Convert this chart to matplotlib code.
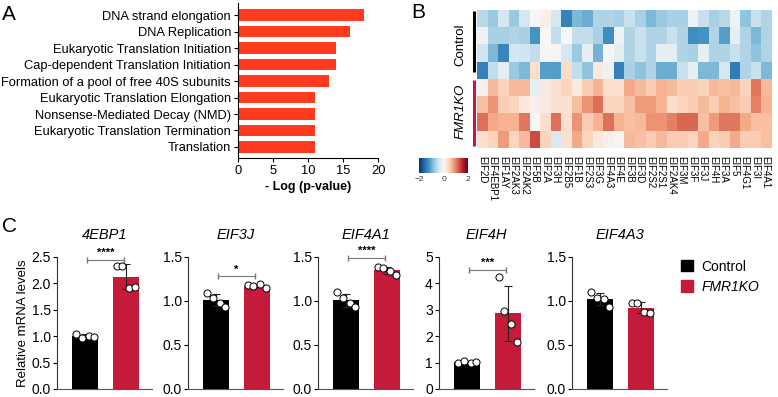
import numpy as np
from matplotlib import pyplot as plt
from matplotlib.patches import Patch

plt.rcParams['font.family'] = ['Liberation Sans', 'DejaVu Sans']

# panel A
pathways = ["DNA strand elongation", "DNA Replication", "Eukaryotic Translation Initiation",
            "Cap-dependent Translation Initiation", "Formation of a pool of free 40S subunits",
            "Eukaryotic Translation Elongation", "Nonsense-Mediated Decay (NMD)",
            "Eukaryotic Translation Termination", "Translation"]
neg_log_p = [18, 16, 14, 14, 13, 11, 11, 11, 11]

# panel B
genes = ["EIF2D", "EIF4EBP1", "EIF1AY", "EIF2AK3", "EIF2AK2", "EIF5B", "EIF2A", "EIF3H", "EIF2B5",
         "EIF1B", "EIF2S3", "EIF3G", "EIF4A3", "EIF4E", "EIF3B", "EIF3D", "EIF2S2", "EIF2S1",
         "EIF2AK4", "EIF3M", "EIF3F", "EIF3J", "EIF4H", "EIF3A", "EIF5", "EIF4G1", "EIF3I", "EIF4A1"]
groups = ["Control", "FMR1KO"]
zscores = [
    [-0.55, -0.75, -0.35, -0.75, -0.35, 0.0, 0.1, -0.35, -1.35, -0.9, -1.0, -0.6, -0.6, -0.65,
     -0.45, -0.65, -0.9, -0.75, -0.65, -0.65, -0.1, -0.45, -0.65, -0.55, -0.1, -0.8, -0.45, -0.6],
    [-0.1, -0.65, -0.65, -0.6, -0.65, -1.2, 0.0, -0.5, 0.0, -0.5, -0.5, -0.65, -1.25, -0.1,
     -0.6, -0.45, -0.6, -0.6, -0.45, -0.6, -1.25, -1.2, -0.6, -1.1, -0.2, -0.6, -0.9, -0.6],
    [-0.4, -0.9, -1.3, -0.35, -0.4, -0.5, 0.0, 0.05, -0.35, -0.75, -0.2, -0.95, 0.0, -0.2,
     -0.6, -0.45, -0.6, -0.2, -0.2, -0.6, -0.65, -0.2, -0.6, -0.6, -0.45, -0.6, -0.8, -0.6],
    [-1.35, -0.5, -0.2, -0.75, -0.9, 0.35, -1.1, -1.1, 0.4, -0.5, -0.8, 0.2, -0.1, -1.35,
     -0.65, -0.8, -0.6, -1.0, -1.0, -0.45, -0.2, -0.9, -0.9, -0.35, -1.4, -0.6, -0.45, -0.9],
    [0.1, 0.65, 0.45, 0.65, 0.65, -0.2, 0.2, 0.3, 0.45, 0.2, 0.5, 0.7, 0.35, 0.35,
     0.75, 0.65, 0.5, 0.7, 0.65, 0.5, 0.5, 0.45, 0.65, 0.6, 0.65, 0.45, 1.05, 0.65],
    [0.6, 0.9, 0.5, 0.45, 0.2, 0.1, 0.2, 0.3, 0.3, 0.6, 0.9, 1.1, 0.45, 0.45,
     0.6, 0.85, 0.85, 0.7, 0.35, 0.45, 0.5, 0.65, 0.5, 0.7, 0.6, 0.5, 1.0, 0.7],
    [1.1, 0.75, 0.7, 0.7, 1.05, 0.0, 0.35, 1.1, 0.3, 0.9, 0.5, 0.7, 1.1, 0.7,
     0.6, 0.65, 0.9, 0.9, 1.0, 1.15, 1.15, 0.6, 0.85, 1.05, 1.05, 0.75, 0.6, 0.6],
    [0.35, 0.45, 0.85, 0.45, 0.65, 1.3, 0.45, -0.3, 0.3, 0.75, 0.45, 0.2, 0.1, 0.05,
     0.65, 0.6, 0.5, 0.65, 0.5, 0.5, 0.45, 0.75, 0.45, 0.5, 0.75, 0.5, 0.5, 0.6],
]

# panel C
qpcr_genes = ["4EBP1", "EIF3J", "EIF4A1", "EIF4H", "EIF4A3"]
control_pts = [[1.05, 0.97, 1.0, 0.98], [1.09, 1.03, 0.98, 0.93], [1.10, 1.03, 0.98, 0.93],
               [0.97, 1.05, 1.0, 1.02], [1.10, 1.03, 1.02, 0.93]]
fmr_pts = [[2.33, 2.33, 1.92, 1.93], [1.18, 1.17, 1.19, 1.15], [1.39, 1.37, 1.34, 1.30],
           [4.24, 2.95, 2.48, 1.79], [0.98, 0.98, 0.88, 0.86]]
stars = ["****", "*", "****", "***", ""]
bracket_y = [2.44, 1.28, 1.49, 4.52, None]
ymax = [2.5, 1.5, 1.5, 5, 1.5]

red = '#c51b3a'

fig = plt.figure(figsize=(7.78, 3.97), dpi=100)

# ---- A
axA = fig.add_axes([0.306, 0.602, 0.180, 0.39])
y = np.arange(len(pathways))
axA.barh(y, neg_log_p, height=0.7, color='#fe3a1f')
axA.set_yticks(y)
axA.set_yticklabels(pathways, fontsize=9.3)
axA.set_ylim(8.67, -0.73)
axA.set_xlim(0, 20)
axA.set_xticks([0, 5, 10, 15, 20])
axA.tick_params(labelsize=9.3, length=3, width=0.8, pad=2)
axA.set_xlabel("- Log (p-value)", fontsize=9, fontweight='bold', labelpad=3)
for s in ['top', 'right']:
    axA.spines[s].set_visible(False)
fig.text(0.003, 1 - 20 / 397, "A", fontsize=15, va='baseline')

# ---- B
axB = fig.add_axes([0.6131, 0.6272, 0.3779, 0.3476])
im = axB.imshow(np.array(zscores), cmap='RdBu_r', vmin=-2, vmax=2, aspect='auto',
                interpolation='nearest')
axB.set_yticks([])
axB.set_xticks(np.arange(len(genes)))
axB.set_xticklabels(genes, rotation=270, fontsize=7, va='top', ha='center')
axB.tick_params(axis='x', length=0, pad=6)
for s in axB.spines.values():
    s.set_visible(False)
axB.plot([-0.75, -0.75], [-0.46, 3.07], color='black', lw=2.2, clip_on=False,
         solid_capstyle='butt')
axB.plot([-0.75, -0.75], [3.53, 7.4], color='#c4144a', lw=2.2, clip_on=False,
         solid_capstyle='butt')
axB.text(-2.1, 1.53, groups[0], rotation=90, fontsize=9.5, ha='center', va='center')
axB.text(-2.1, 5.35, groups[1], rotation=90, fontsize=9.5, ha='center', va='center',
         style='italic')
axB.set_xlim(-0.5, len(genes) - 0.5)
axB.set_ylim(len(zscores) - 0.5, -0.5)
fig.text(0.528, 1 - 18 / 397, "B", fontsize=15, va='baseline')

axCb = fig.add_axes([0.5386, 0.5642, 0.0630, 0.0378])
cb = fig.colorbar(im, cax=axCb, orientation='horizontal', ticks=[-2, 0, 2])
cb.outline.set_visible(False)
axCb.tick_params(length=0, labelsize=6, pad=2, labelcolor='#333333')

# ---- C
lefts = [57, 188, 318, 439, 572]
offsets = np.array([-0.22, -0.08, 0.08, 0.22])
for i in range(len(qpcr_genes)):
    ax = fig.add_axes([lefts[i] / 778, 8 / 397, 95 / 778, 132 / 397])
    c = np.array(control_pts[i])
    f = np.array(fmr_pts[i])
    means = [c.mean(), f.mean()]
    sds = [c.std(ddof=1), f.std(ddof=1)]
    ax.bar([0, 1], means, width=0.65, color=['black', red], zorder=1)
    ax.errorbar([0, 1], means, yerr=sds, fmt='none', ecolor='#222222', elinewidth=0.8,
                capsize=3, capthick=0.8, zorder=2)
    ax.scatter(offsets, c, s=26, facecolor='white', edgecolor='black', linewidth=0.7, zorder=3)
    ax.scatter(1 + offsets, f, s=26, facecolor='white', edgecolor='black', linewidth=0.7,
               zorder=3)
    ax.set_xlim(-0.7, 1.65)
    ax.set_ylim(0, ymax[i])
    if ymax[i] == 5:
        ax.set_yticks([0, 1, 2, 3, 4, 5])
    else:
        ax.set_yticks(np.arange(0, ymax[i] + 0.01, 0.5))
        ax.yaxis.set_major_formatter('{x:.1f}')
    ax.set_xticks([])
    ax.tick_params(axis='y', labelsize=10, length=3, width=0.8, pad=1.5)
    for s in ['top', 'right']:
        ax.spines[s].set_visible(False)
    ax.spines['left'].set_color('#333333')
    ax.spines['bottom'].set_color('#555555')
    ax.set_title(qpcr_genes[i], fontsize=10.5, style='italic', pad=13)
    if stars[i]:
        yb = bracket_y[i]
        ax.plot([0.05, 0.95], [yb, yb], color='#777777', lw=0.8, clip_on=False,
                marker='|', markersize=5)
        ax.text(0.5, yb + ymax[i] * 0.015, stars[i], ha='center', va='bottom', fontsize=8,
                fontweight='bold')
    if i == 0:
        ax.set_ylabel("Relative mRNA levels", fontsize=9.5, labelpad=2)
fig.text(0.003, 1 - 232 / 397, "C", fontsize=15, va='baseline')

handles = [Patch(color='black', label=groups[0]), Patch(color=red, label=groups[1])]
leg = fig.legend(handles=handles, loc='upper left', bbox_to_anchor=(668 / 778, 1 - 247 / 397),
                 frameon=False, fontsize=10, handlelength=0.9, handleheight=0.9,
                 handletextpad=0.6, labelspacing=0.45)
leg.get_texts()[1].set_style('italic')

fig.savefig('out.png', dpi=100)
